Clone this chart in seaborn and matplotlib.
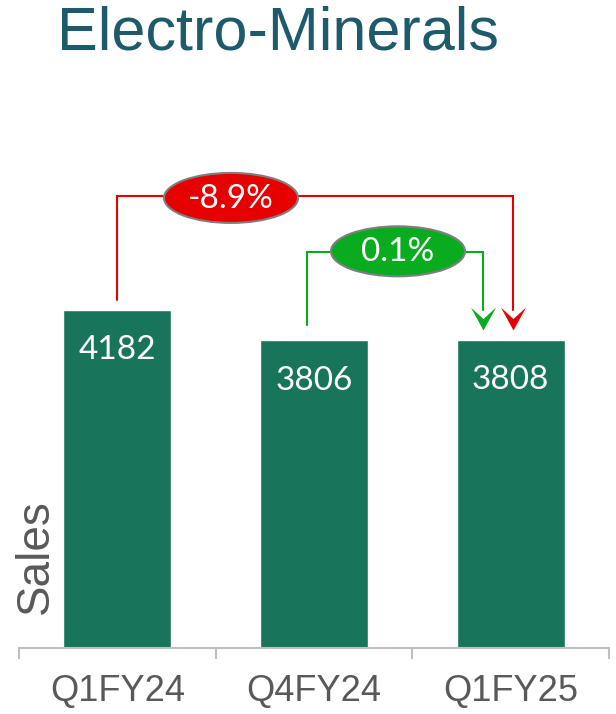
import matplotlib
matplotlib.use("Agg")
import matplotlib.pyplot as plt
import seaborn as sns
import pandas as pd
from matplotlib.patches import Ellipse
from matplotlib.path import Path

categories = ["Q1FY24", "Q4FY24", "Q1FY25"]
sales = [4182, 3806, 3808]
changes = ["-8.9%", "0.1%"]
title = "Electro-Minerals"
ylabel = "Sales"

BAR = "#18755B"
GRAY = "#595959"
RED = "#E60000"
GREEN = "#09AB1F"

sns.set_theme(style="white")
plt.rcParams["font.family"] = ["Liberation Sans", "DejaVu Sans"]

W, H, DPI = 616, 714, 100
fig = plt.figure(figsize=(W / DPI, H / DPI), dpi=DPI)
ax_l, ax_r, ax_b, ax_t = 19, 609, 648, 100
ax = fig.add_axes([ax_l / W, (H - ax_b) / H, (ax_r - ax_l) / W, (ax_b - ax_t) / H])

df = pd.DataFrame({"cat": categories, "Sales": sales})
sns.barplot(data=df, x="cat", y="Sales", color=BAR, saturation=1, width=0.55, ax=ax)

ax.set_xlim(-0.5, 2.5)
ymax = (ax_b - ax_t) * 12.37
ax.set_ylim(0, ymax)
ax.set_yticks([])
ax.set_xlabel("")
ax.set_ylabel("")
for s in ["top", "right", "left"]:
    ax.spines[s].set_visible(False)
ax.spines["bottom"].set_color("#BFBFBF")
ax.spines["bottom"].set_linewidth(1.5)
ax.set_xticks(range(len(categories)))
ax.set_xticklabels(categories, fontsize=26, color=GRAY)
ax.tick_params(axis="x", which="major", length=0, pad=19)
ax.set_xticks([-0.5, 0.5, 1.5, 2.5], minor=True)
ax.tick_params(axis="x", which="minor", length=8, width=1.5, color="#BFBFBF", bottom=True)

# value labels inside bars
for i, v in enumerate(sales):
    ax.annotate(str(v), (i, v), xytext=(0, -29), textcoords="offset points",
                ha="center", va="center", color="white", fontsize=24, family="Lato")

# units per pixel
px_x = 3 / (ax_r - ax_l)
px_y = ymax / (ax_b - ax_t)

def connector(x0, y0, ytop, x1, y1, color):
    ax.plot([x0, x0, x1, x1], [y0, ytop, ytop, y1 + 20 * px_y], color=color, lw=1.5,
            solid_joinstyle="miter", zorder=3)
    verts = [(0, 0), (-12, 22), (0, 11), (12, 22), (0, 0)]
    path = Path(verts, [Path.MOVETO, Path.LINETO, Path.LINETO, Path.LINETO, Path.CLOSEPOLY])
    ax.plot([x1], [y1], marker=path, markersize=33, color=color, markeredgewidth=0, zorder=4)

def bubble(xc, yc, text, color):
    e = Ellipse((xc, yc), 134 * px_x, 50 * px_y, facecolor=color, edgecolor="#7F7F7F",
                lw=1.5, zorder=5)
    ax.add_patch(e)
    ax.text(xc, yc - 1 * px_y, text, ha="center", va="center", color="white", fontsize=24,
            family="Lato", zorder=6)

# red: Q1FY24 -> Q1FY25
connector(0.0, sales[0] + 10 * px_y, sales[0] + 114 * px_y, 2.012, sales[2] + 10 * px_y, RED)
bubble(0.578, sales[0] + 112 * px_y, changes[0], RED)
# green: Q4FY24 -> Q1FY25
connector(0.964, sales[1] + 15 * px_y, sales[1] + 88 * px_y, 1.86, sales[2] + 10 * px_y, GREEN)
bubble(1.427, sales[1] + 89 * px_y, changes[1], GREEN)

ax.text(36 / (ax_r - ax_l) - ax_l / (ax_r - ax_l), 0.167, ylabel, transform=ax.transAxes,
        rotation=90, ha="center", va="center", fontsize=33, color=GRAY)

fig.text(278 / W, 1 - 34 / H, title, ha="center", va="center", fontsize=44, color="#1D5B6B")

fig.savefig("out.png", dpi=DPI)
